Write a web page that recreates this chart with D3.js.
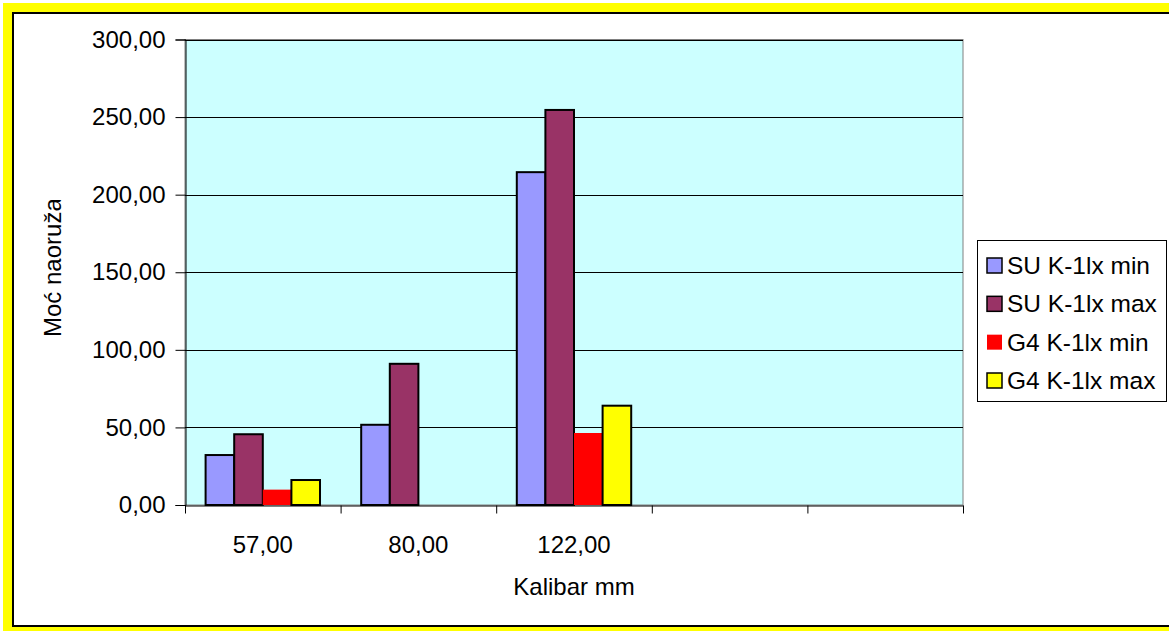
<!DOCTYPE html>
<html>
<head>
<meta charset="utf-8">
<script src="https://cdn.jsdelivr.net/npm/d3@7"></script>
<style>
  html, body { margin: 0; padding: 0; background: #fff; }
  svg { display: block; font-family: Arial, "Liberation Sans", sans-serif; }
</style>
</head>
<body>
<svg id="chart" width="1169" height="631"></svg>
<script>
// Caliber groups (two trailing empty slots keep the category axis width)
const categories = ["57,00", "80,00", "122,00", "", ""];
const seriesNames = ["SU K-1lx min", "SU K-1lx max", "G4 K-1lx min", "G4 K-1lx max"];
const suMin = [32.2, 51.7, 214.5, null, null];
const suMax = [45.6, 91.0, 254.6, null, null];
const g4Min = [9.9, null, 46.4, null, null];
const g4Max = [16.1, null, 64.0, null, null];
const yTicks = [0, 50, 100, 150, 200, 250, 300];

const seriesValues = [suMin, suMax, g4Min, g4Max];
const fills = ["#9999FF", "#993366", "#FF0000", "#FFFF00"];
const strokes = ["#000", "#000", "none", "#000"];

const svg = d3.select("#chart");
const W = 1169, H = 631;

// outer frame
svg.append("rect").attr("x", 3).attr("y", 3).attr("width", W + 10).attr("height", H + 10).attr("fill", "#FFFF00");
svg.append("rect").attr("x", 13).attr("y", 13).attr("width", W + 10).attr("height", 613)
  .attr("fill", "#fff").attr("stroke", "#000").attr("stroke-width", 2);

const plot = { left: 185, right: 963, top: 39.5, bottom: 505 };

const x = d3.scaleBand().domain(d3.range(categories.length)).range([plot.left, plot.right]).paddingInner(0).paddingOuter(0);
const xs = d3.scaleBand().domain(d3.range(seriesNames.length)).range([0, x.bandwidth()]).paddingInner(0).paddingOuter(0.72);
const y = d3.scaleLinear().domain([0, 300]).range([plot.bottom, plot.top]);

const locale = d3.formatLocale({ decimal: ",", thousands: ".", grouping: [3], currency: ["", ""] });
const fmt = locale.format(".2f");

// plot area background
svg.append("rect").attr("x", plot.left).attr("y", plot.top)
  .attr("width", plot.right - plot.left).attr("height", plot.bottom - plot.top)
  .attr("fill", "#CCFFFF").attr("stroke", "#808080").attr("stroke-width", 1);

// gridlines
svg.append("g").selectAll("line").data(yTicks.filter(d => d > 0)).join("line")
  .attr("x1", plot.left).attr("x2", plot.right)
  .attr("y1", d => Math.round(y(d)) + 0.5).attr("y2", d => Math.round(y(d)) + 0.5)
  .attr("stroke", "#000").attr("stroke-width", 1);

// bars
const rows = [];
seriesValues.forEach((vals, s) => vals.forEach((v, i) => { if (v != null) rows.push({ s, i, v }); }));
svg.append("g").selectAll("rect").data(rows).join("rect")
  .attr("x", d => x(d.i) + xs(d.s))
  .attr("y", d => y(d.v))
  .attr("width", xs.bandwidth())
  .attr("height", d => y(0) - y(d.v))
  .attr("fill", d => fills[d.s])
  .attr("stroke", d => strokes[d.s])
  .attr("stroke-width", 2);

// y axis
const yAxis = svg.append("g").attr("transform", `translate(${plot.left + 0.5},0)`)
  .call(d3.axisLeft(y).tickValues(yTicks).tickFormat(fmt).tickSize(10).tickPadding(10));
yAxis.select(".domain").attr("stroke", "#000");
yAxis.selectAll(".tick line").attr("stroke", "#000");
yAxis.selectAll("text").attr("font-size", 24).attr("font-family", "Arial, 'Liberation Sans', sans-serif").attr("fill", "#000");

// x axis ticks at category boundaries
const xb = d3.scaleLinear().domain([0, categories.length]).range([plot.left, plot.right]);
const xAxis = svg.append("g").attr("transform", `translate(0,${plot.bottom + 0.5})`)
  .call(d3.axisBottom(xb).tickValues(d3.range(categories.length + 1)).tickFormat("").tickSize(8).tickSizeOuter(0));
xAxis.select(".domain").attr("stroke", "#000");
xAxis.selectAll(".tick line").attr("stroke", "#000");

// x category labels
svg.append("g").selectAll("text").data(categories).join("text")
  .attr("x", (d, i) => x(i) + x.bandwidth() / 2)
  .attr("y", 553)
  .attr("text-anchor", "middle")
  .attr("font-size", 24)
  .attr("fill", "#000")
  .text(d => d);

// axis titles
svg.append("text").attr("x", (plot.left + plot.right) / 2).attr("y", 595)
  .attr("text-anchor", "middle").attr("font-size", 24).attr("fill", "#000").text("Kalibar mm");

// vertical title, cut off at the top as the space runs out
svg.append("clipPath").attr("id", "ytitle-clip")
  .append("rect").attr("x", 20).attr("y", 200).attr("width", 80).attr("height", 200);
svg.append("g").attr("clip-path", "url(#ytitle-clip)")
  .append("text")
  .attr("transform", "translate(61,337) rotate(-90)")
  .attr("font-size", 24).attr("fill", "#000")
  .text("Moć naoružanja");

// legend
const lg = svg.append("g");
lg.append("rect").attr("x", 977.5).attr("y", 240.5).attr("width", 189).attr("height", 161)
  .attr("fill", "#fff").attr("stroke", "#000").attr("stroke-width", 1);
const rowY = d3.scalePoint().domain(d3.range(seriesNames.length)).range([265, 380]);
const items = lg.selectAll("g.item").data(seriesNames).join("g").attr("class", "item")
  .attr("transform", (d, i) => `translate(0,${rowY(i)})`);
items.append("rect").attr("x", 987).attr("y", -7).attr("width", 15).attr("height", 15)
  .attr("fill", (d, i) => fills[i]).attr("stroke", (d, i) => strokes[i]).attr("stroke-width", 1.5);
items.append("text").attr("x", 1007).attr("y", 9).attr("font-size", 24.5).attr("fill", "#000").text(d => d);
</script>
</body>
</html>
